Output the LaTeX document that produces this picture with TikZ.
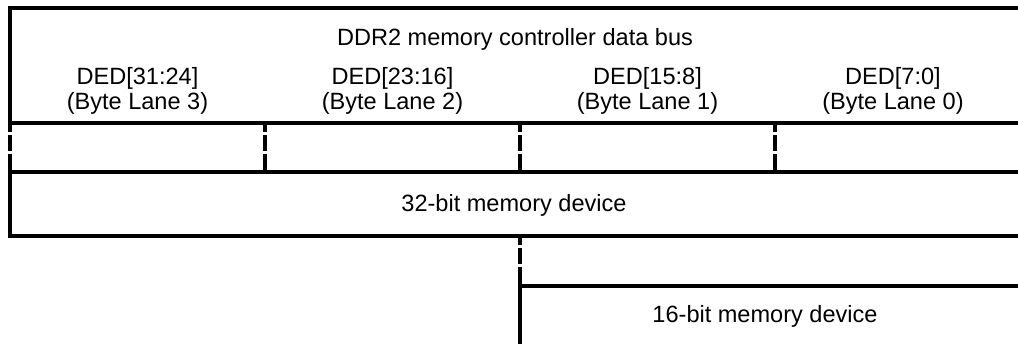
\documentclass[tikz,border=0pt]{standalone}
\usepackage{fontspec}
\setmainfont{Liberation Sans}
\usetikzlibrary{positioning}
\newcommand{\lanebreak}[2]{\draw[lane break] (#1) -- (#2);}
\tikzstyle{every node}=[font=\fontsize{13.4}{14.3}\selectfont, inner sep=0, outer sep=0, align=center]
\tikzstyle{lane break}=[line width=2.3pt, dash pattern=on 5pt off 1.8pt on 9pt off 1.8pt on 12pt]

\begin{document}
\begin{tikzpicture}[x=0.02cm, y=-0.02cm, line width=2.3pt]
\useasboundingbox (0,0) rectangle (1018,344);
\coordinate (top l) at (10, 8);
\coordinate (top r) at (1018, 8);
\coordinate (lane l) at (10, 123);
\coordinate (lane r) at (1018, 123);
\coordinate (dev l) at (10, 172);
\coordinate (dev r) at (1018, 172);
\coordinate (dev bl) at (10, 236);
\coordinate (dev br) at (1018, 236);
\coordinate (half t) at (520, 236);
\coordinate (half l) at (520, 286);
\coordinate (half r) at (1018, 286);
\coordinate (half b) at (520, 344);

% data bus
\draw[line join=miter] (top r) -- (top l) -- (lane l) -- (lane r);
\node (bus) at (515, 39) {DDR2 memory controller data bus};
\node (lane3) at (137.5, 91) {DED[31:24]\\(Byte Lane 3)};
\node (lane2) at (392.5, 91) {DED[23:16]\\(Byte Lane 2)};
\node (lane1) at (647.5, 91) {DED[15:8]\\(Byte Lane 1)};
\node (lane0) at (893, 91) {DED[7:0]\\(Byte Lane 0)};

% byte lane breaks
\foreach \x in {10, 265, 520, 775}
{
\lanebreak{\x, 123}{\x, 172}
}

% 32-bit device
\draw[line join=miter] (dev r) -- (dev l) -- (dev bl) -- (dev br);
\node (dev32) at (514, 205) {32-bit memory device};

% 16-bit device
\lanebreak{half t}{half l}
\draw[line join=miter] (half r) -- (half l) -- (half b);
\node (dev16) at (765, 316) {16-bit memory device};
\end{tikzpicture}
\end{document}
